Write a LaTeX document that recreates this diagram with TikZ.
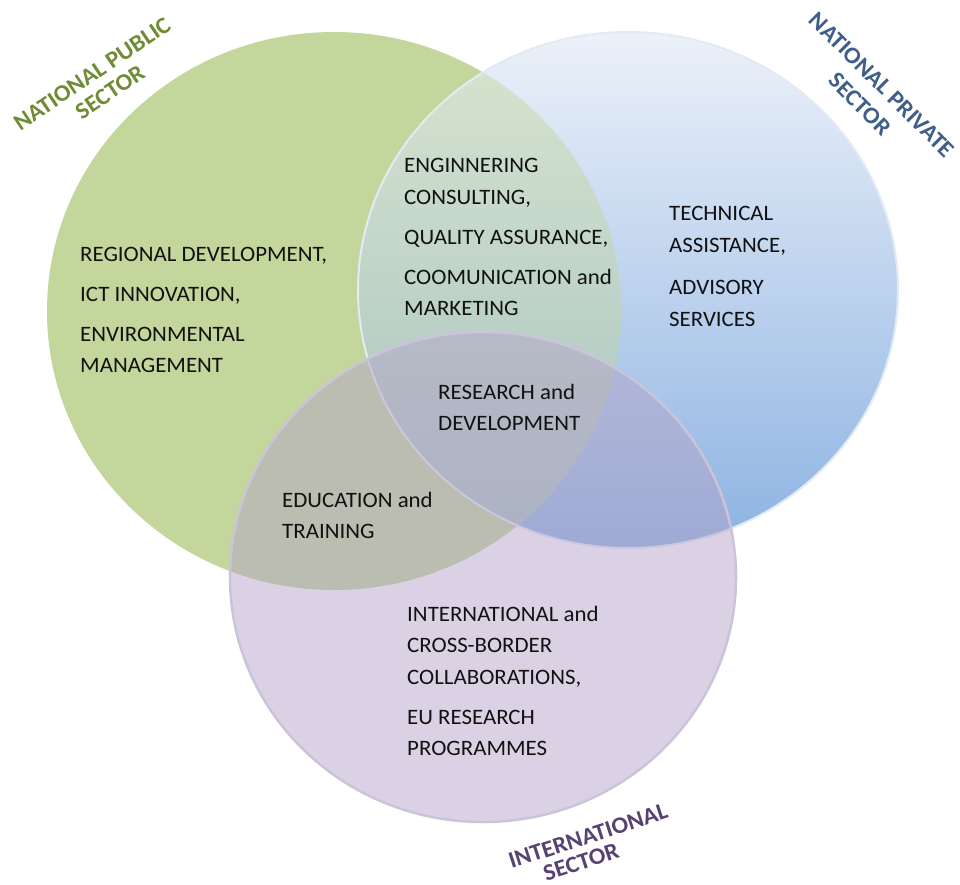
\documentclass[tikz,border=0pt]{standalone}
\usepackage{fontspec}
\setmainfont[FakeStretch=1.04]{Carlito}
\definecolor{greenfill}{HTML}{C3D69B}
\definecolor{bluetop}{HTML}{ECF1F9}
\definecolor{bluebot}{HTML}{8DB3E2}
\definecolor{blueedge}{HTML}{E2EAF5}
\definecolor{purplefill}{HTML}{B3A2C7}
\definecolor{purpleedge}{HTML}{CBC3DA}
\definecolor{txtcol}{HTML}{111111}
\definecolor{greenlab}{HTML}{6F8C34}
\definecolor{bluelab}{HTML}{3F5E8A}
\definecolor{purplelab}{HTML}{574373}
\begin{document}
\begin{tikzpicture}[x=1pt,y=-1pt,
  body/.style={anchor=base west, inner sep=0pt, text=txtcol, font=\fontsize{22}{31.5}\selectfont},
  sector/.style={inner sep=0pt, font=\bfseries\fontsize{23.5}{23.5}\selectfont}]
\useasboundingbox (0,0) rectangle (960,885);
\fill[white] (0,0) rectangle (960,885);
% national private sector (blue)
\shade[top color=bluetop, bottom color=bluebot] (628,290) ellipse [x radius=270pt, y radius=258pt];
% national public sector (green)
\fill[greenfill] (334,311) ellipse [x radius=287pt, y radius=279pt];
\begin{scope}
  \clip (334,311) ellipse [x radius=287pt, y radius=279pt];
  \shade[top color=bluetop, bottom color=bluebot, opacity=0.55] (628,290) ellipse [x radius=270pt, y radius=258pt];
\end{scope}
\draw[blueedge, line width=2pt] (628,290) ellipse [x radius=270pt, y radius=258pt];
% international sector (purple)
\fill[purplefill, fill opacity=0.48] (483,577) ellipse [x radius=253pt, y radius=245pt];
\draw[purpleedge, line width=2.5pt] (483,577) ellipse [x radius=253pt, y radius=245pt];

% texts
\node[body] (pub) at (80,261) {\begin{tabular}[t]{@{}l@{}}REGIONAL DEVELOPMENT,\\[8.5pt] ICT INNOVATION,\\[8.5pt] ENVIRONMENTAL\\ MANAGEMENT\end{tabular}};
\node[body] (pubpriv) at (404,173) {\begin{tabular}[t]{@{}l@{}}ENGINNERING\\ CONSULTING,\\[8.5pt] QUALITY ASSURANCE,\\[8.5pt] COOMUNICATION and\\ MARKETING\end{tabular}};
\node[body] (all) at (438,399) {\begin{tabular}[t]{@{}l@{}}RESEARCH and\\ DEVELOPMENT\end{tabular}};
\node[body] (pubint) at (282,507) {\begin{tabular}[t]{@{}l@{}}EDUCATION and\\ TRAINING\end{tabular}};
\node[body] (priv) at (669,221) {\begin{tabular}[t]{@{}l@{}}TECHNICAL\\ ASSISTANCE,\\[10.5pt] ADVISORY\\ SERVICES\end{tabular}};
\node[body] (int) at (407,621) {\begin{tabular}[t]{@{}l@{}}INTERNATIONAL and\\ CROSS-BORDER\\ COLLABORATIONS,\\[8.5pt] EU RESEARCH\\ PROGRAMMES\end{tabular}};

% sector labels
\node[sector, text=greenlab, rotate=34] (publabA) at (92,74) {NATIONAL PUBLIC};
\node[sector, text=greenlab, rotate=34] (publabB) at (110,92) {SECTOR};
\node[sector, text=bluelab, rotate=-45] (privlabA) at (882,85) {NATIONAL PRIVATE};
\node[sector, text=bluelab, rotate=-45] (privlabB) at (860,104) {SECTOR};
\node[sector, text=purplelab, rotate=18] (intlabA) at (588,836) {INTERNATIONAL};
\node[sector, text=purplelab, rotate=18] (intlabB) at (581,862) {SECTOR};
\end{tikzpicture}
\end{document}
